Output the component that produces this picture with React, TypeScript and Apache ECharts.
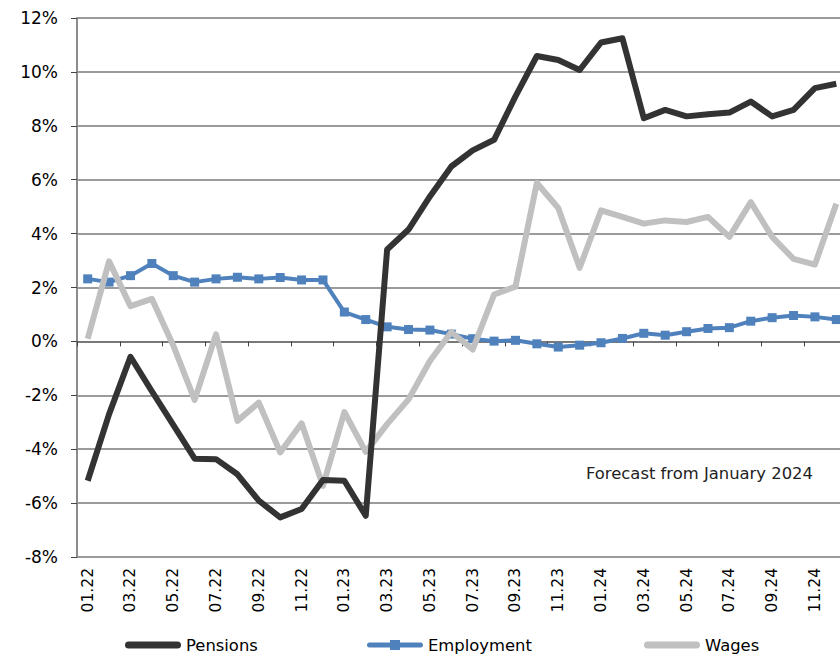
import React, { useEffect, useRef } from "react";
import * as echarts from "echarts";

const categories: string[] = [
  "01.22", "02.22", "03.22", "04.22", "05.22", "06.22", "07.22", "08.22", "09.22", "10.22", "11.22", "12.22",
  "01.23", "02.23", "03.23", "04.23", "05.23", "06.23", "07.23", "08.23", "09.23", "10.23", "11.23", "12.23",
  "01.24", "02.24", "03.24", "04.24", "05.24", "06.24", "07.24", "08.24", "09.24", "10.24", "11.24", "12.24",
];

const pensions: number[] = [
  -5.17, -2.7, -0.57, -1.85, -3.1, -4.35, -4.37, -4.93, -5.91, -6.53, -6.22, -5.14,
  -5.17, -6.47, 3.41, 4.15, 5.38, 6.49, 7.09, 7.48, 9.09, 10.59, 10.44, 10.07,
  11.09, 11.25, 8.28, 8.59, 8.35, 8.43, 8.49, 8.9, 8.35, 8.59, 9.4, 9.56,
];

const employment: number[] = [
  2.32, 2.2, 2.44, 2.89, 2.44, 2.2, 2.32, 2.38, 2.32, 2.37, 2.28, 2.28,
  1.09, 0.81, 0.54, 0.44, 0.42, 0.27, 0.1, 0.01, 0.04, -0.09, -0.21, -0.14,
  -0.05, 0.11, 0.3, 0.23, 0.36, 0.48, 0.51, 0.75, 0.88, 0.96, 0.91, 0.81,
];

const wages: number[] = [
  0.1, 2.97, 1.31, 1.58, -0.15, -2.17, 0.26, -2.95, -2.27, -4.12, -3.04, -5.36,
  -2.62, -4.1, -3.07, -2.15, -0.73, 0.35, -0.3, 1.74, 2.03, 5.88, 4.95, 2.73,
  4.86, 4.62, 4.37, 4.49, 4.43, 4.62, 3.88, 5.17, 3.88, 3.06, 2.85, 5.11,
];

const seriesNames: string[] = ["Pensions", "Employment", "Wages"];
const annotation = "Forecast from January 2024";

export default function App() {
  const ref = useRef<HTMLDivElement>(null);

  useEffect(() => {
    document.body.style.margin = "0";
    if (!ref.current) return;
    const chart = echarts.init(ref.current, undefined, { renderer: "svg" });
    const mainFont = "'DejaVu Sans', Verdana, sans-serif";
    const plainIcon = "path://M3.5,0 H52.5 A3.5,3.5 0 0 1 52.5,7 H3.5 A3.5,3.5 0 0 1 3.5,0 Z";
    const markerIcon = "path://M2.5,2.5 H53.5 A2.5,2.5 0 0 1 53.5,7.5 H2.5 A2.5,2.5 0 0 1 2.5,2.5 Z M23,0 H33 V10 H23 Z";
    const legendLefts = [125, 367, 644];
    const legendIcons = [plainIcon, markerIcon, plainIcon];
    const legends = seriesNames.map((name, i) => ({
      data: [{ name, icon: legendIcons[i] }],
      left: legendLefts[i],
      top: 637,
      padding: 0,
      itemWidth: 56,
      itemHeight: 10,
      symbolKeepAspect: true,
      textStyle: { fontFamily: mainFont, fontSize: 16.4, color: "#000" },
    }));
    chart.setOption({
      animation: false,
      backgroundColor: "#ffffff",
      grid: {
        left: 77,
        top: 18,
        bottom: 100,
        right: -7,
        containLabel: false,
        outerBoundsMode: "none",
      },
      legend: legends,
      xAxis: {
        type: "category",
        data: categories,
        boundaryGap: true,
        axisLine: { onZero: true, lineStyle: { color: "#6e6e6e", width: 1.5 } },
        axisTick: { show: true, interval: 1, length: 5, lineStyle: { color: "#444", width: 1 } },
        axisLabel: {
          interval: 1,
          rotate: 90,
          margin: 11,
          fontFamily: mainFont,
          fontSize: 15.5,
          color: "#000",
        },
        splitLine: { show: false },
      },
      yAxis: {
        type: "value",
        min: -8,
        max: 12,
        interval: 2,
        axisLine: { show: true, lineStyle: { color: "#8c8c8c", width: 2 } },
        axisTick: { show: true, length: 6, lineStyle: { color: "#444", width: 1 } },
        axisLabel: {
          formatter: "{value}%",
          fontFamily: mainFont,
          fontSize: 17,
          color: "#000",
          margin: 19,
        },
        splitLine: { show: true, lineStyle: { color: "#7a7a7a", width: 1.5 } },
      },
      graphic: [
        {
          type: "text",
          left: 586,
          top: 465,
          style: {
            text: annotation,
            fontFamily: mainFont,
            fontSize: 16.4,
            fill: "#222",
          },
        },
      ],
      series: [
        {
          name: "Pensions",
          type: "line",
          data: pensions,
          z: 4,
          symbol: "none",
          lineStyle: { color: "#333333", width: 6, join: "round" },
          itemStyle: { color: "#333333" },
        },
        {
          name: "Employment",
          type: "line",
          data: employment,
          z: 2,
          symbol: "rect",
          symbolSize: 9,
          lineStyle: { color: "#4f81bd", width: 4 },
          itemStyle: { color: "#4f81bd" },
        },
        {
          name: "Wages",
          type: "line",
          data: wages,
          z: 3,
          symbol: "none",
          lineStyle: { color: "#c0c0c0", width: 6, join: "round" },
          itemStyle: { color: "#c0c0c0" },
        },
      ],
    });
    return () => chart.dispose();
  }, []);

  return <div ref={ref} style={{ width: 840, height: 657 }} />;
}
